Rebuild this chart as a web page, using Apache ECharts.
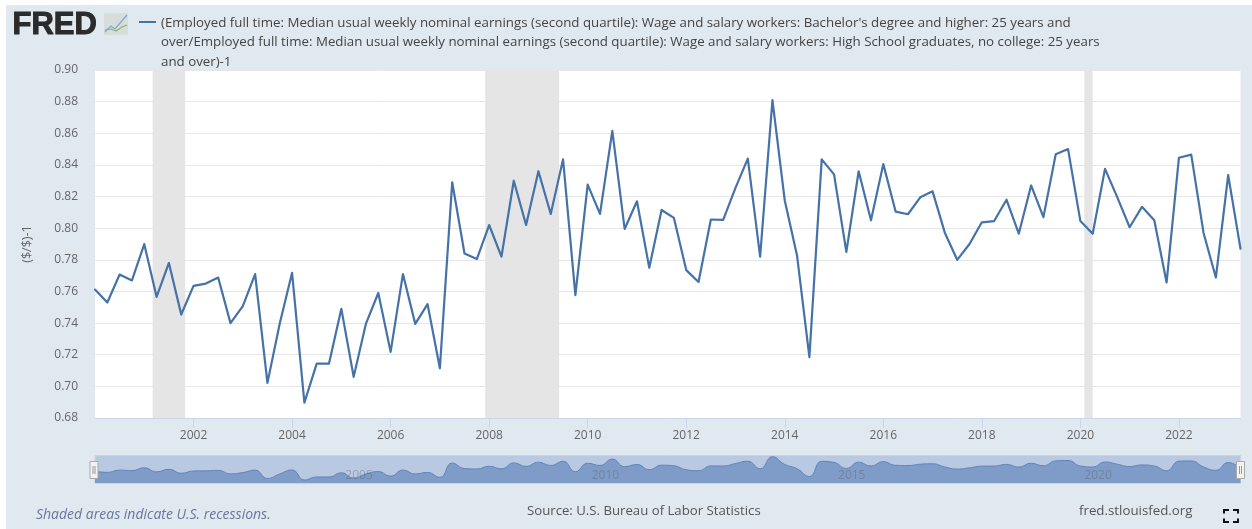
<!DOCTYPE html>
<html><head><meta charset="utf-8">
<style>html,body{margin:0;padding:0;background:#fff}#c{width:1252px;height:529px}</style>
<script src="https://cdn.jsdelivr.net/npm/echarts@6/dist/echarts.min.js"></script>
</head><body><div id="c"></div>
<script>
const seriesName = "(Employed full time: Median usual weekly nominal earnings (second quartile): Wage and salary workers: Bachelor's degree and higher: 25 years and\nover/Employed full time: Median usual weekly nominal earnings (second quartile): Wage and salary workers: High School graduates, no college: 25 years\nand over)-1";
const firstYear = 2000;
const ratio = [
 0.7612,0.753,0.7707,0.767,
 0.7899,0.7566,0.778,0.7454,
 0.7635,0.765,0.7688,0.74,
 0.7507,0.771,0.7022,0.7397,
 0.7718,0.6897,0.7144,0.7144,
 0.749,0.706,0.7397,0.759,
 0.7218,0.771,0.7395,0.752,
 0.7115,0.829,0.784,0.7805,
 0.802,0.782,0.83,0.802,
 0.836,0.809,0.8435,0.7577,
 0.8275,0.809,0.8615,0.7995,
 0.817,0.775,0.8115,0.8065,
 0.7735,0.766,0.8055,0.8052,
 0.8255,0.844,0.782,0.881,
 0.8175,0.7825,0.7185,0.8435,
 0.834,0.785,0.836,0.805,
 0.8405,0.8105,0.8088,0.8195,
 0.8233,0.797,0.78,0.79,
 0.8037,0.8045,0.818,0.7965,
 0.827,0.807,0.8467,0.85,
 0.8045,0.7965,0.8375,0.8195,
 0.8006,0.8135,0.805,0.7657,
 0.8445,0.8465,0.797,0.7688,
 0.8335,0.787
];
const xTicks = [2002,2004,2006,2008,2010,2012,2014,2016,2018,2020,2022];
const navTicks = [2005,2010,2015,2020];
const recessions = [[2001.17,2001.83],[2007.92,2009.42],[2020.08,2020.25]];

const points = ratio.map((v,i)=>[firstYear+i/4,v]);
const fontFamily = '"Open Sans", sans-serif';
const panel = '#e1e9f0';
const chart = echarts.init(document.getElementById('c'),null,{renderer:'canvas'});

function corner(x,y,dx,dy){
  return {type:'polyline',silent:true,shape:{points:[[x+dx,y],[x,y],[x,y+dy]]},style:{stroke:'#111',lineWidth:2,fill:null}};
}
function handle(x){
  return [
    {type:'rect',silent:true,z:20,shape:{x:x-4,y:461.5,width:8,height:17},style:{fill:'#f2f2f2',stroke:'#a9a9a9',lineWidth:1}},
    {type:'rect',silent:true,z:21,shape:{x:x-1.5,y:466,width:1,height:8},style:{fill:'#999'}},
    {type:'rect',silent:true,z:21,shape:{x:x+0.5,y:466,width:1,height:8},style:{fill:'#999'}}
  ];
}

chart.setOption({
  animation:false,
  backgroundColor:'#fff',
  textStyle:{fontFamily},
  title:[
    {text:seriesName,left:156,top:8,textStyle:{fontFamily,fontSize:13.3,fontWeight:'normal',color:'#444',lineHeight:19.5}},
    {text:'Source: U.S. Bureau of Labor Statistics',left:522,top:500,textStyle:{fontFamily,fontSize:13.2,fontWeight:'normal',color:'#555'}},
    {text:'fred.stlouisfed.org',left:1074,top:500,textStyle:{fontFamily,fontSize:13.3,fontWeight:'normal',color:'#555'}},
    {text:'Shaded areas indicate U.S. recessions.',left:31,top:503,textStyle:{fontFamily,fontSize:14,fontWeight:'normal',fontStyle:'italic',color:'#66779c'}}
  ],
  graphic:[
    {type:'rect',silent:true,z:-10,shape:{x:6,y:5,width:1246,height:524},style:{fill:panel}},
    {type:'text',silent:true,left:12,top:9,style:{text:'FRED',fill:'#2b2b2b',font:'900 31px "Liberation Sans", sans-serif',stroke:'#2b2b2b',lineWidth:1}},
    {type:'rect',silent:true,shape:{x:104,y:13,width:24,height:22},style:{fill:'#d6dddb'}},
    {type:'polyline',silent:true,shape:{points:[[105,32],[111,26],[115,29],[121,22],[127,15]]},style:{stroke:'#7faad0',lineWidth:1.2,fill:null}},
    {type:'polyline',silent:true,shape:{points:[[105,30],[111,29],[116,31],[122,27],[127,25]]},style:{stroke:'#8fb36b',lineWidth:1.2,fill:null}},
    {type:'line',silent:true,shape:{x1:139,y1:22,x2:156,y2:22},style:{stroke:'#4572a7',lineWidth:2}},
    {type:'rect',silent:true,z:-1,shape:{x:95,y:455.5,width:1145.5,height:28},style:{fill:'#bac9e2',stroke:'#cfd3d8',lineWidth:1}},
    ...handle(94),...handle(1240.5),
    corner(1224,510,5,3.5),corner(1238,510,-5,3.5),corner(1224,522,5,-3.5),corner(1238,522,-5,-3.5)
  ],
  grid:[
    {left:95,top:70,width:1145.5,height:348,show:true,backgroundColor:'#fff',borderWidth:0},
    {left:95,top:456,width:1145.5,height:27,show:false}
  ],
  xAxis:[
    {type:'value',gridIndex:0,min:2000,max:2023.25,scale:true,splitLine:{show:false},
      axisLine:{show:true,onZero:false,lineStyle:{color:'#ccd6eb',width:1}},
      axisTick:{show:true,length:10,customValues:xTicks,lineStyle:{color:'#ccd6eb'}},
      axisLabel:{customValues:xTicks,color:'#666',fontSize:12,margin:12,formatter:v=>String(v)}},
    {type:'value',gridIndex:1,min:2000,max:2023.25,scale:true,z:10,splitLine:{show:false},
      axisLine:{show:false},axisTick:{show:false},
      axisLabel:{customValues:navTicks,inside:true,margin:1,align:'left',padding:[0,0,0,4],color:'rgba(90,90,90,0.35)',fontSize:12,formatter:v=>String(v)}}
  ],
  yAxis:[
    {type:'value',gridIndex:0,min:0.68,max:0.90,interval:0.02,
      name:'($/$)-1',nameLocation:'middle',nameGap:61,nameRotate:90,nameTextStyle:{color:'#666',fontSize:12.5,fontFamily},
      axisLine:{show:false},axisTick:{show:false},
      splitLine:{show:true,lineStyle:{color:'#e6e6e6',width:1}},
      axisLabel:{color:'#666',fontSize:12,margin:17,formatter:v=>v.toFixed(2)}},
    {type:'value',gridIndex:1,min:0.665,max:0.887,show:false,splitLine:{show:false}}
  ],
  series:[
    {name:seriesName,type:'line',xAxisIndex:0,yAxisIndex:0,data:points,showSymbol:false,symbol:'none',
      lineStyle:{color:'#4572a7',width:2.2,join:'round',cap:'round'},itemStyle:{color:'#4572a7'},z:3,
      markArea:{silent:true,itemStyle:{color:'#e5e5e5',opacity:1},z:1,data:recessions.map(r=>[{xAxis:r[0]},{xAxis:r[1]}])}},
    {name:'navigator',type:'line',xAxisIndex:1,yAxisIndex:1,data:points,showSymbol:false,symbol:'none',smooth:0.5,
      lineStyle:{color:'#5f85b8',width:1},areaStyle:{color:'#7f9bc7',opacity:1},z:2}
  ]
});
</script></body></html>
